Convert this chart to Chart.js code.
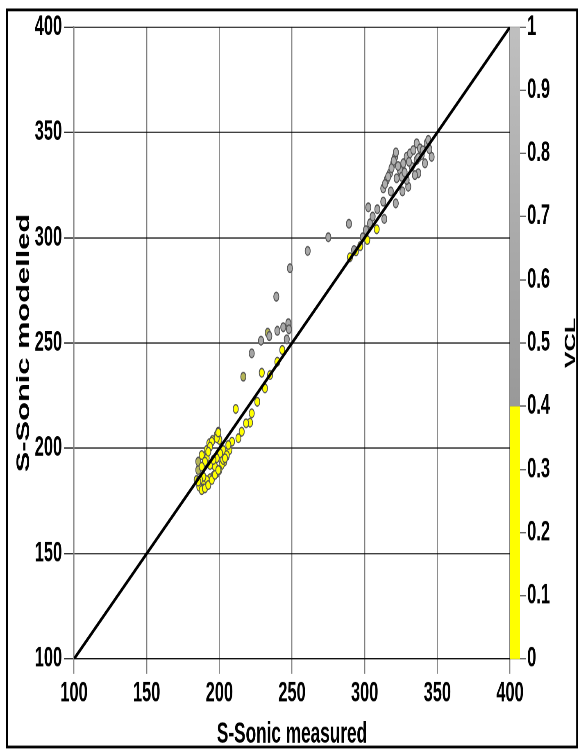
<!DOCTYPE html>
<html>
<head>
<meta charset="utf-8">
<script src="https://cdn.jsdelivr.net/npm/chart.js@4.4.1/dist/chart.umd.min.js"></script>
<style>
  html, body { margin: 0; padding: 0; background: #fff; width: 581px; height: 749px; }
  #wrap { position: absolute; left: 0; top: 0; width: 709px; height: 535px; transform: scale(0.8195, 1.4); transform-origin: 0 0; }
</style>
</head>
<body>
<div id="wrap"><canvas id="chart" width="709" height="535"></canvas></div>
<script>
// axis ticks
const xTicks = [100, 150, 200, 250, 300, 350, 400];
const yTicks = [100, 150, 200, 250, 300, 350, 400];
const vclTicks = [0, 0.1, 0.2, 0.3, 0.4, 0.5, 0.6, 0.7, 0.8, 0.9, 1];
const vclTickLabels = ["0", "0.1", "0.2", "0.3", "0.4", "0.5", "0.6", "0.7", "0.8", "0.9", "1"];

// 1:1 reference line
const lineX = [100, 400];
const lineY = [100, 400];

// S-Sonic measured / modelled / VCL
const measured = [
  // yellow cluster
  231.4, 226.1, 222.3, 221.1, 218.4, 215.4, 213.1, 208.7, 206.9, 205.1,
  203.4, 201.6, 200.0, 198.2, 195.9, 193.6, 191.3, 189.0, 186.2, 184.4,
  185.5, 185.5, 187.9, 191.3, 193.6, 197.0, 191.3, 193.1, 195.4, 198.2,
  199.3, 200.0, 202.7, 200.5, 198.2, 195.9, 189.0, 186.7, 189.0, 198.2,
  194.8, 193.6, 192.4, 190.1, 187.9, 185.5, 187.9, 190.1, 192.4, 194.8,
  197.0, 199.3, 202.7, 205.1, 206.2, 203.9, 199.3, 211.3,
  // yellow along the line
  229.2, 234.9, 239.9, 243.3, 216.5, 289.9, 294.0, 297.0, 301.8, 308.3,
  // grey scatter
  222.3, 228.7, 233.3, 234.4, 239.9, 244.0, 247.5, 247.9, 246.4, 239.2,
  248.6, 260.8, 275.0, 289.2, 292.7, 298.7, 300.9, 303.7, 305.5, 302.5,
  308.7, 313.5, 312.8, 321.4,
  // grey cluster
  312.8, 315.2, 317.4, 319.7, 320.9, 324.3, 326.6, 328.9, 331.2, 333.5,
  335.8, 338.1, 342.7, 343.8, 346.1, 341.5, 336.9, 334.6, 330.0, 328.9,
  322.0, 325.5, 332.4, 335.8, 339.2, 314.0, 316.2, 318.5, 320.0, 321.5,
  323.0, 327.5, 330.5, 337.0, 340.0, 344.5, 318.0, 326.0
];
const modelled = [
  228.5, 222.1, 216.6, 212.2, 211.9, 207.9, 204.8, 203.2, 199.2, 196.4,
  193.7, 192.1, 189.7, 188.2, 186.9, 185.8, 185.0, 182.6, 181.8, 185.0,
  189.7, 193.7, 196.8, 195.3, 192.1, 191.3, 199.2, 202.4, 204.0, 206.3,
  207.9, 204.0, 199.2, 197.6, 195.3, 194.5, 186.5, 185.0, 181.0, 204.8,
  203.2, 200.8, 198.4, 193.7, 191.3, 184.2, 180.2, 181.0, 182.6, 185.0,
  187.4, 189.7, 194.5, 196.8, 201.6, 195.3, 207.5, 218.7,
  235.9, 234.8, 241.1, 246.7, 234.0, 290.7, 293.5, 296.0, 298.9, 304.0,
  245.1, 251.1, 254.9, 253.3, 255.8, 257.5, 259.4, 256.5, 251.8, 272.0,
  285.5, 293.7, 300.2, 306.6, 294.1, 300.2, 303.6, 306.8, 310.0, 314.4,
  313.5, 308.9, 317.1, 316.3,
  323.4, 327.4, 330.6, 335.3, 338.4, 332.1, 335.3, 338.4, 340.0, 341.6,
  344.8, 342.4, 344.8, 346.4, 338.4, 335.3, 330.6, 329.7, 324.2, 327.4,
  328.2, 328.9, 333.7, 336.9, 339.2, 325.5, 329.0, 333.0, 336.5, 340.5,
  334.0, 331.0, 336.0, 338.0, 341.5, 342.0, 322.0, 322.0
];
const vcl = [
  0.25, 0.25, 0.25, 0.25, 0.25, 0.25, 0.25, 0.25, 0.25, 0.25,
  0.25, 0.25, 0.25, 0.25, 0.25, 0.25, 0.25, 0.25, 0.25, 0.3,
  0.4, 0.4, 0.3, 0.25, 0.25, 0.25, 0.25, 0.25, 0.3, 0.3,
  0.3, 0.25, 0.25, 0.25, 0.25, 0.25, 0.25, 0.25, 0.25, 0.3,
  0.3, 0.3, 0.3, 0.25, 0.25, 0.3, 0.25, 0.25, 0.25, 0.25,
  0.25, 0.25, 0.25, 0.25, 0.25, 0.25, 0.3, 0.3,
  0.3, 0.3, 0.3, 0.3, 0.4, 0.35, 0.35, 0.35, 0.35, 0.35,
  0.55, 0.6, 0.4, 0.6, 0.62, 0.62, 0.6, 0.6, 0.58, 0.6,
  0.6, 0.62, 0.62, 0.6, 0.55, 0.55, 0.58, 0.6, 0.62, 0.6,
  0.6, 0.62, 0.65, 0.65,
  0.7, 0.7, 0.7, 0.72, 0.72, 0.7, 0.7, 0.72, 0.72, 0.72,
  0.75, 0.72, 0.75, 0.75, 0.7, 0.7, 0.68, 0.68, 0.65, 0.68,
  0.7, 0.7, 0.7, 0.7, 0.72, 0.7, 0.7, 0.72, 0.72, 0.72,
  0.7, 0.7, 0.7, 0.72, 0.72, 0.72, 0.68, 0.66
];

const vclBreak = 0.4;
const FONT = "'Liberation Sans', Arial, sans-serif";

function vclColor(v) {
  if (v < 0.38) return "#ffff00";
  if (v < 0.42) return "#b4b456";
  const t = (v - vclBreak) / (1 - vclBreak);
  const g = Math.round(0x99 + t * (0xc2 - 0x99));
  return `rgb(${g},${g},${g})`;
}

const points = measured.map((x, i) => ({ x: x, y: modelled[i] }));
const line = lineX.map((x, i) => ({ x: x, y: lineY[i] }));

const colorBar = {
  id: "colorBar",
  beforeDraw(chart) {
    const c = chart.ctx;
    c.save();
    c.fillStyle = "#fff";
    c.fillRect(0, 0, chart.width, chart.height);
    c.restore();
  },
  afterDraw(chart) {
    const c = chart.ctx;
    const s = chart.scales.y2;
    const x0 = chart.chartArea.right;
    const w = 12.2;
    const yb = s.getPixelForValue(vclBreak);
    const y0 = s.getPixelForValue(0);
    const y1 = s.getPixelForValue(1);
    c.save();
    c.fillStyle = "#ffff00";
    c.fillRect(x0, yb, w, y0 - yb);
    const g = c.createLinearGradient(0, yb, 0, y1);
    g.addColorStop(0, "#999999");
    g.addColorStop(1, "#c0c0c0");
    c.fillStyle = g;
    c.fillRect(x0, y1, w, yb - y1);

    // VCL title, reads bottom to top
    c.translate(696.8, (chart.chartArea.top + chart.chartArea.bottom) / 2);
    c.rotate(-Math.PI / 2);
    c.fillStyle = "#000";
    c.font = "bold 18px " + FONT;
    c.textAlign = "center";
    c.textBaseline = "middle";
    c.fillText("VCL", 0, 0);
    c.restore();

    // outer frame
    c.save();
    c.strokeStyle = "#000";
    c.lineWidth = 2;
    c.strokeRect(8.5, 7.1, 695.6, 526.5);
    c.restore();
  }
};

const tickFont = { family: FONT, size: 20, weight: "bold" };

new Chart(document.getElementById("chart"), {
  type: "scatter",
  data: {
    datasets: [
      {
        data: line,
        showLine: true,
        borderColor: "#000",
        borderWidth: 2.6,
        pointRadius: 0,
        xAxisID: "x",
        yAxisID: "y"
      },
      {
        data: points,
        pointRadius: 3.1,
        pointBorderWidth: 1,
        pointBorderColor: "#555",
        pointBackgroundColor: ctx => vclColor(vcl[ctx.dataIndex]),
        xAxisID: "x",
        yAxisID: "y"
      }
    ]
  },
  options: {
    responsive: false,
    devicePixelRatio: 2,
    animation: false,
    layout: { padding: { top: 19.3, left: 0, right: 0, bottom: 0 } },
    plugins: { legend: { display: false }, tooltip: { enabled: false } },
    scales: {
      x: {
        type: "linear",
        position: "bottom",
        min: 100,
        max: 400,
        afterBuildTicks: s => { s.ticks = xTicks.map(v => ({ value: v })); },
        afterFit: s => { s.height = 64.3; },
        ticks: { color: "#000", font: tickFont, padding: 2, maxRotation: 0, autoSkip: false },
        grid: { color: "#808080", lineWidth: 1.2, tickLength: 10.7 },
        border: { color: "#000", width: 0.8 },
        title: {
          display: true,
          text: "S-Sonic measured",
          color: "#000",
          font: { family: FONT, size: 21, weight: "bold", lineHeight: 1 },
          padding: 0
        }
      },
      y: {
        type: "linear",
        position: "left",
        min: 100,
        max: 400,
        afterBuildTicks: s => { s.ticks = yTicks.map(v => ({ value: v })); },
        afterFit: s => { s.width = 90.3; },
        ticks: { color: "#000", font: tickFont, padding: 2.4, autoSkip: false },
        grid: { color: "#000", lineWidth: 0.8, tickLength: 12.2 },
        border: { color: "#808080", width: 1.2 },
        title: {
          display: true,
          text: "S-Sonic modelled",
          color: "#000",
          font: { family: FONT, size: 22, weight: "bold" },
          padding: { top: 16, bottom: 0 }
        }
      },
      y2: {
        type: "linear",
        position: "right",
        min: 0,
        max: 1,
        afterBuildTicks: s => { s.ticks = vclTicks.map(v => ({ value: v })); },
        afterFit: s => { s.width = 86.7; },
        ticks: {
          color: "#000",
          font: tickFont,
          padding: 1.5,
          autoSkip: false,
          callback: (v, i) => vclTickLabels[i]
        },
        grid: { drawOnChartArea: false, color: "#333", lineWidth: 0.8, tickLength: 19.5 },
        border: { display: false }
      }
    }
  },
  plugins: [colorBar]
});
</script>
</body>
</html>
